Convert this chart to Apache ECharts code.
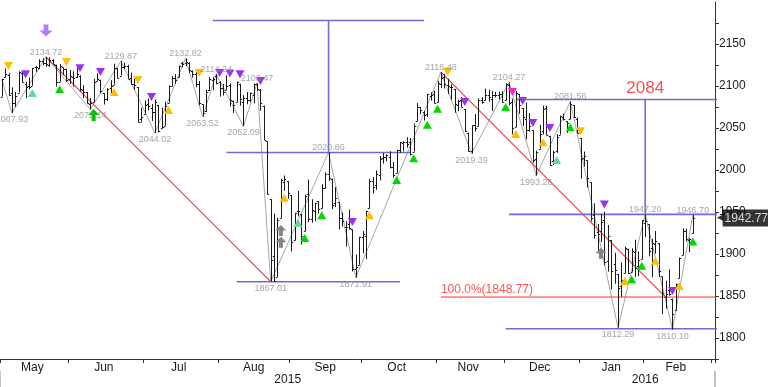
<!DOCTYPE html>
<html><head><meta charset="utf-8">
<script src="https://cdn.jsdelivr.net/npm/echarts@6/dist/echarts.min.js"></script>
<style>html,body{margin:0;padding:0;background:#fff}#c{width:768px;height:387px}</style>
</head><body><div id="c"></div>
<script>
// ---- categories (trading days) ----
const dates = [
'2015-05-01','2015-05-04','2015-05-05','2015-05-06','2015-05-07','2015-05-08','2015-05-11','2015-05-12','2015-05-13','2015-05-14','2015-05-15','2015-05-18','2015-05-19','2015-05-20','2015-05-21','2015-05-22','2015-05-26','2015-05-27','2015-05-28','2015-05-29',
'2015-06-01','2015-06-02','2015-06-03','2015-06-04','2015-06-05','2015-06-08','2015-06-09','2015-06-10','2015-06-11','2015-06-12','2015-06-15','2015-06-16','2015-06-17','2015-06-18','2015-06-19','2015-06-22','2015-06-23','2015-06-24','2015-06-25','2015-06-26','2015-06-29','2015-06-30',
'2015-07-01','2015-07-02','2015-07-06','2015-07-07','2015-07-08','2015-07-09','2015-07-10','2015-07-13','2015-07-14','2015-07-15','2015-07-16','2015-07-17','2015-07-20','2015-07-21','2015-07-22','2015-07-23','2015-07-24','2015-07-27','2015-07-28','2015-07-29','2015-07-30','2015-07-31',
'2015-08-03','2015-08-04','2015-08-05','2015-08-06','2015-08-07','2015-08-10','2015-08-11','2015-08-12','2015-08-13','2015-08-14','2015-08-17','2015-08-18','2015-08-19','2015-08-20','2015-08-21','2015-08-24','2015-08-25','2015-08-26','2015-08-27','2015-08-28','2015-08-31',
'2015-09-01','2015-09-02','2015-09-03','2015-09-04','2015-09-08','2015-09-09','2015-09-10','2015-09-11','2015-09-14','2015-09-15','2015-09-16','2015-09-17','2015-09-18','2015-09-21','2015-09-22','2015-09-23','2015-09-24','2015-09-25','2015-09-28','2015-09-29','2015-09-30',
'2015-10-01','2015-10-02','2015-10-05','2015-10-06','2015-10-07','2015-10-08','2015-10-09','2015-10-12','2015-10-13','2015-10-14','2015-10-15','2015-10-16','2015-10-19','2015-10-20','2015-10-21','2015-10-22','2015-10-23','2015-10-26','2015-10-27','2015-10-28','2015-10-29','2015-10-30',
'2015-11-02','2015-11-03','2015-11-04','2015-11-05','2015-11-06','2015-11-09','2015-11-10','2015-11-11','2015-11-12','2015-11-13','2015-11-16','2015-11-17','2015-11-18','2015-11-19','2015-11-20','2015-11-23','2015-11-24','2015-11-25','2015-11-27','2015-11-30',
'2015-12-01','2015-12-02','2015-12-03','2015-12-04','2015-12-07','2015-12-08','2015-12-09','2015-12-10','2015-12-11','2015-12-14','2015-12-15','2015-12-16','2015-12-17','2015-12-18','2015-12-21','2015-12-22','2015-12-23','2015-12-24','2015-12-28','2015-12-29','2015-12-30','2015-12-31',
'2016-01-04','2016-01-05','2016-01-06','2016-01-07','2016-01-08','2016-01-11','2016-01-12','2016-01-13','2016-01-14','2016-01-15','2016-01-19','2016-01-20','2016-01-21','2016-01-22','2016-01-25','2016-01-26','2016-01-27','2016-01-28','2016-01-29',
'2016-02-01','2016-02-02','2016-02-03','2016-02-04','2016-02-05','2016-02-08','2016-02-09','2016-02-10','2016-02-11','2016-02-12','2016-02-16','2016-02-17','2016-02-18','2016-02-19','2016-02-22','2016-02-23','2016-02-24','2016-02-25','2016-02-26','2016-02-29',
'2016-03-01'];
const monthNames = ['Jan','Feb','Mar','Apr','May','Jun','Jul','Aug','Sep','Oct','Nov','Dec'];

// ---- daily OHLC ----
const openVals = [
2087.38,2110.23,2112.63,2091.26,2079.96,2092.13,2115.56,2102.87,2099.62,2100.43,2122.07,2121.30,2129.45,2127.79,2125.55,2130.36,2125.34,2105.13,2122.27,2120.66,
2108.64,2110.41,2110.64,2112.35,2095.09,2092.34,2079.07,2081.12,2106.24,2107.43,2091.34,2084.26,2097.40,2101.58,2121.06,2112.50,2123.16,2123.65,2109.96,2102.62,2098.63,2061.19,
2067.00,2078.03,2073.95,2069.52,2077.66,2049.73,2052.74,2080.03,2099.72,2109.01,2110.55,2126.80,2126.85,2127.55,2118.21,2114.16,2102.24,2078.19,2070.75,2094.70,2106.78,2111.60,
2104.49,2097.68,2095.27,2100.75,2082.61,2080.98,2102.66,2081.10,2086.19,2083.15,2089.70,2101.99,2095.69,2076.61,2034.08,1965.15,1898.08,1872.75,1942.77,1986.06,1986.73,
1970.09,1916.52,1950.79,1947.76,1927.30,1971.45,1941.59,1951.45,1963.06,1955.10,1978.02,1995.33,1989.66,1960.84,1961.39,1943.24,1932.24,1935.93,1929.18,1881.90,1887.14,
1919.65,1921.77,1954.33,1986.63,1982.34,1994.01,2013.73,2015.65,2015.00,2003.66,1996.47,2024.37,2031.73,2033.13,2033.47,2021.88,2058.19,2075.08,2068.75,2066.48,2088.35,2090.00,
2080.76,2102.63,2110.60,2101.68,2098.60,2096.56,2077.19,2083.41,2072.29,2044.64,2022.08,2053.67,2051.99,2083.70,2082.82,2089.41,2084.42,2089.30,2088.82,2090.95,
2082.93,2101.71,2080.71,2051.24,2090.42,2073.39,2061.17,2047.93,2047.27,2013.37,2025.55,2046.50,2073.76,2040.81,2010.27,2023.15,2042.20,2063.52,2057.77,2060.54,2077.34,2060.59,
2038.20,2013.78,2011.71,1985.32,1945.97,1926.12,1927.83,1940.34,1891.68,1916.68,1888.66,1876.18,1861.46,1877.40,1906.28,1878.79,1902.52,1885.22,1894.00,
1936.94,1935.26,1907.07,1911.67,1913.07,1873.25,1848.46,1857.10,1847.00,1833.40,1871.44,1898.80,1927.57,1916.74,1924.44];
const highVals = [
2108.41,2120.95,2115.24,2098.42,2092.90,2117.66,2117.69,2105.06,2110.19,2121.45,2123.89,2131.78,2133.02,2134.72,2134.28,2132.15,2125.34,2126.22,2122.27,2120.66,
2119.15,2117.59,2121.92,2112.89,2100.99,2093.01,2085.62,2108.50,2115.02,2107.43,2091.34,2097.40,2106.79,2126.65,2121.64,2129.87,2128.03,2125.10,2116.04,2108.92,2098.63,2074.28,
2082.78,2085.06,2078.61,2083.74,2077.66,2074.28,2081.31,2100.67,2111.98,2114.14,2124.42,2128.91,2132.82,2128.49,2118.51,2116.87,2106.01,2078.19,2095.60,2110.60,2110.48,2114.24,
2105.70,2102.51,2112.66,2103.32,2082.61,2105.35,2102.66,2089.06,2092.93,2092.45,2102.87,2103.47,2096.17,2076.61,2034.08,1965.15,1948.04,1943.09,1989.60,1993.48,1986.73,
1970.09,1948.91,1975.01,1947.76,1970.42,1988.63,1965.29,1961.05,1963.06,1983.19,1997.26,2020.86,1989.66,1979.64,1961.39,1949.52,1939.20,1952.89,1929.18,1899.48,1920.53,
1927.21,1951.36,1989.17,1991.62,1999.31,2016.50,2020.13,2018.66,2022.34,2009.56,2024.15,2033.54,2034.45,2039.12,2037.97,2055.20,2079.74,2075.14,2070.37,2090.35,2092.52,2094.32,
2106.20,2116.48,2114.59,2108.78,2101.91,2096.56,2083.67,2086.94,2072.29,2044.64,2053.22,2066.69,2085.31,2086.74,2097.06,2095.61,2094.12,2093.00,2093.29,2093.81,
2103.37,2104.27,2085.00,2093.84,2090.42,2073.85,2080.33,2067.65,2047.27,2022.92,2053.87,2076.72,2076.37,2040.81,2022.90,2042.74,2064.73,2067.36,2057.77,2081.56,2077.34,2062.54,
2038.20,2021.94,2011.71,1985.32,1960.40,1935.65,1947.38,1950.33,1934.47,1916.68,1901.44,1876.18,1889.85,1908.85,1906.28,1906.73,1916.99,1902.96,1940.24,
1947.20,1935.26,1918.01,1927.35,1913.07,1873.25,1868.25,1881.60,1847.00,1864.78,1895.77,1930.68,1930.00,1918.78,1946.70];
const lowVals = [
2087.38,2110.23,2088.46,2067.93,2074.99,2092.13,2104.58,2085.57,2096.04,2100.43,2116.81,2120.01,2124.50,2122.59,2122.95,2126.06,2099.18,2105.13,2112.86,2104.89,
2102.54,2099.14,2109.61,2093.23,2085.67,2079.11,2072.14,2081.12,2106.24,2091.33,2078.00,2082.10,2088.86,2101.58,2109.45,2112.50,2119.89,2108.58,2101.78,2095.38,2056.64,2056.32,
2067.00,2071.02,2058.40,2044.02,2044.66,2049.73,2052.74,2080.03,2099.72,2102.49,2110.55,2122.28,2123.66,2115.40,2110.00,2098.63,2077.09,2063.52,2069.09,2094.08,2094.97,2102.07,
2087.31,2088.60,2095.27,2075.53,2067.91,2080.98,2076.49,2052.09,2078.26,2080.61,2079.30,2094.14,2070.53,2035.73,1970.89,1867.01,1867.08,1872.75,1942.77,1975.19,1965.98,
1903.07,1916.52,1944.72,1911.21,1927.30,1937.88,1937.19,1939.19,1948.27,1954.30,1977.93,1986.73,1953.45,1955.80,1929.22,1932.57,1908.77,1928.92,1879.21,1871.91,1887.14,
1900.70,1893.70,1954.33,1971.99,1976.44,1987.53,2007.61,2010.55,2001.78,1990.73,1996.47,2020.46,2022.31,2026.61,2017.22,2021.88,2058.19,2066.53,2058.84,2063.11,2082.63,2079.34,
2080.76,2097.51,2096.98,2090.41,2083.74,2068.24,2069.91,2074.85,2045.66,2022.02,2019.39,2045.90,2051.99,2078.76,2082.82,2081.39,2070.29,2086.30,2084.13,2080.41,
2082.93,2077.11,2042.35,2051.24,2066.78,2052.32,2036.53,2045.67,2008.80,1993.26,2025.55,2042.43,2041.66,2005.33,2005.93,2020.49,2042.20,2058.73,2044.20,2060.54,2061.97,2043.62,
1989.68,2004.17,1979.05,1938.83,1918.46,1901.10,1914.35,1886.41,1878.93,1857.83,1864.60,1812.29,1848.98,1877.40,1875.97,1878.79,1872.70,1873.65,1894.00,
1920.03,1897.29,1872.23,1900.52,1872.65,1828.46,1834.94,1850.32,1810.10,1833.40,1871.44,1898.80,1915.09,1902.17,1924.44];
const closeVals = [
2108.29,2114.49,2089.46,2080.15,2088.00,2116.10,2105.33,2099.12,2098.48,2121.10,2122.73,2129.20,2127.83,2125.85,2130.82,2126.06,2104.20,2123.48,2120.79,2107.39,
2111.73,2109.60,2114.07,2095.84,2092.83,2079.28,2080.15,2105.20,2108.86,2094.11,2084.43,2096.29,2100.44,2121.24,2109.99,2122.85,2124.20,2108.58,2102.31,2101.49,2057.64,2063.11,
2077.42,2076.78,2068.76,2081.34,2046.68,2051.31,2076.62,2099.60,2108.95,2107.40,2124.29,2126.64,2128.28,2119.21,2114.15,2102.15,2079.65,2067.64,2093.25,2108.57,2108.63,2103.84,
2098.04,2093.32,2099.84,2083.56,2077.57,2104.18,2084.07,2086.05,2083.39,2091.54,2102.44,2096.92,2079.61,2035.73,1970.89,1893.21,1867.61,1940.51,1987.66,1988.87,1972.18,
1913.85,1948.86,1951.13,1921.22,1969.41,1942.04,1952.29,1961.05,1953.03,1978.09,1995.31,1990.20,1958.03,1966.97,1942.74,1938.76,1932.24,1931.34,1881.77,1884.09,1920.03,
1923.82,1951.36,1987.05,1979.92,1995.83,2013.43,2014.89,2017.46,2003.69,1994.24,2023.86,2033.11,2033.66,2030.77,2018.94,2052.51,2075.15,2071.18,2065.89,2090.35,2089.41,2079.36,
2104.05,2109.79,2102.31,2099.93,2099.20,2078.58,2081.72,2075.00,2045.97,2023.04,2053.19,2050.44,2083.58,2081.24,2089.17,2086.59,2089.14,2088.87,2090.11,2080.41,
2102.63,2079.51,2049.62,2091.69,2077.07,2063.59,2047.62,2052.23,2012.37,2021.94,2043.41,2073.07,2041.89,2005.55,2021.15,2038.97,2064.29,2060.99,2056.50,2078.36,2063.36,2043.94,
2012.66,2016.71,1990.26,1943.09,1922.03,1923.67,1938.68,1890.28,1921.84,1880.33,1881.33,1859.33,1868.99,1906.90,1877.08,1903.63,1882.95,1893.36,1940.24,
1939.38,1903.03,1912.53,1915.45,1880.05,1853.44,1852.21,1851.86,1829.08,1864.78,1895.58,1926.82,1917.83,1917.78,1942.77];

// ---- swing points (zigzag + labels) ----
const swingPoints = [
['2015-05-01',2108.41],['2015-05-06',2067.93],['2015-05-20',2134.72],['2015-06-09',2072.14],['2015-06-22',2129.87],
['2015-07-07',2044.02],['2015-07-20',2132.82],['2015-07-27',2063.52],['2015-07-31',2114.24],['2015-08-12',2052.09],
['2015-08-18',2103.47],['2015-08-24',1867.01],['2015-09-17',2020.86],['2015-09-29',1871.91],['2015-11-03',2116.48],
['2015-11-16',2019.39],['2015-12-02',2104.27],['2015-12-14',1993.26],['2015-12-29',2081.56],['2016-01-20',1812.29],
['2016-02-01',1947.20],['2016-02-11',1810.10],['2016-02-22',1946.70]];

// ---- signal markers ----
const purpleDown = [['2015-05-12',2114],['2015-06-04',2121],['2015-06-12',2116.7],['2015-07-06',2087],['2015-08-03',2115.5],['2015-08-06',2115],['2015-08-11',2114],['2015-08-19',2106],['2015-09-28',1938],['2015-11-12',2081],['2015-12-08',2082],['2015-12-11',2056],['2015-12-18',2050],['2016-01-13',1959],['2016-02-11',1856]];
const magentaDown = [['2015-12-03',2093]];
const orangeDown = [['2015-05-05',2123.8],['2015-05-29',2128.6],['2015-06-29',2107],['2015-07-24',2115.5],['2015-11-05',2117],['2016-01-04',2046]];
const orangeUp = [['2015-06-18',2093],['2015-07-13',2071.4],['2015-08-28',1967],['2015-10-05',1946],['2015-12-04',2043],['2015-12-16',2033],['2016-01-22',1868],['2016-02-04',1892],['2016-02-16',1862]];
const greenUp = [['2015-05-27',2096],['2015-09-08',1919],['2015-09-15',1946],['2015-10-15',1988],['2015-10-22',2014],['2015-10-28',2054],['2015-11-02',2073],['2015-12-01',2075],['2015-12-29',2051],['2016-01-26',1870],['2016-01-29',1886],['2016-02-22',1915]];
const lightGreenUp = [['2015-05-14',2091.7],['2015-09-03',1937],['2015-12-22',2012]];
const grayArrowUp = [['2015-08-27',1928],['2015-08-27',1914],['2016-01-12',1901]];
const bigPurpleDown = [['2015-05-20',2166]];
const bigGreenUp = [['2015-06-10',2065.5]];

// ---- drawn study lines ----
const trendLines = [[['2015-05-20',2134.72],['2015-08-24',1867.01]], [['2015-11-03',2116.48],['2016-02-09',1848.77]]];
const rangeLines = [
  [['2015-07-30',2178],['2015-10-27',2178]],
  [['2015-09-17',2178],['2015-09-17',2020.86]],
  [['2015-08-05',2020.86],['2015-10-21',2020.86]],
  [['2015-08-10',1867.01],['2015-10-16',1867.01]],
  [['2015-12-04',2084],['END',2084]],
  [['2016-02-01',2084],['2016-02-01',1947.20]],
  [['2015-12-02',1947.20],['END',1947.20]],
  [['2015-12-01',1811],['END',1811]]];
const targetLevel = ['2016-02-01', 2084];
const fibLevel = ['2015-11-03', 1848.77];
const fibPct = '100.0%';
const lastClose = closeVals[closeVals.length - 1];

// ---- helpers ----
const FONT = "'Liberation Sans', Arial, sans-serif";
const endIdx = dates.length + 1;
const ix = d => d === 'END' ? endIdx : dates.indexOf(d);
const monthKey = d => d.slice(0, 7);
const monthStart = new Set(), monthMid = new Set();
(function(){
  let s = 0;
  for (let i = 1; i <= dates.length; i++) {
    if (i === dates.length || monthKey(dates[i]) !== monthKey(dates[s])) {
      monthStart.add(s);
      if (i - s >= 5) monthMid.add(Math.floor((s + i - 1) / 2));
      s = i;
    }
  }
})();
const yearStart = new Set(), yearMid = new Set();
(function(){
  let s = 0;
  for (let i = 1; i <= dates.length; i++) {
    if (i === dates.length || dates[i].slice(0,4) !== dates[s].slice(0,4)) {
      if (s > 0) yearStart.add(s);
      yearMid.add(Math.floor((s + i - 1) / 2));
      s = i;
    }
  }
})();

const ohlcData = openVals.map((o, i) => [i, o, highVals[i], lowVals[i], closeVals[i]]);

function renderOHLC(params, api) {
  const xi = api.value(0);
  const o = api.coord([xi, api.value(1)]);
  const h = api.coord([xi, api.value(2)]);
  const l = api.coord([xi, api.value(3)]);
  const c = api.coord([xi, api.value(4)]);
  const bw = api.size([1, 0])[0];
  const t = Math.max(1.5, bw * 0.5);
  const x = Math.round(o[0]) + 0.5;
  const st = { stroke: '#1a1a1a', lineWidth: 1 };
  return { type: 'group', children: [
    { type: 'line', shape: { x1: x, y1: h[1], x2: x, y2: l[1] }, style: st },
    { type: 'line', shape: { x1: x - t, y1: Math.round(o[1]) + 0.5, x2: x, y2: Math.round(o[1]) + 0.5 }, style: st },
    { type: 'line', shape: { x1: x, y1: Math.round(c[1]) + 0.5, x2: x + t, y2: Math.round(c[1]) + 0.5 }, style: st }
  ]};
}

function markerSeries(name, pts, color, symbol, size, rotate) {
  return { name, type: 'scatter', z: 6, silent: true, symbol, symbolSize: size, symbolRotate: rotate || 0,
    itemStyle: { color, opacity: 1 }, data: pts.map(p => [ix(p[0]), p[1]]) };
}
const ARROW = 'path://M6,0 L12,6 L8.2,6 L8.2,12 L3.8,12 L3.8,6 L0,6 Z';

const swingLabelData = swingPoints.slice(1).map((p, k) => {
  const prev = swingPoints[k][1];
  const isHigh = p[1] > prev;
  return { value: [ix(p[0]), p[1]], label: { position: isHigh ? 'top' : 'bottom', distance: isHigh ? 0 : 2 } };
});

const RED = '#ff3030';
const series = [];
series.push({ type: 'line', z: 2, silent: true, symbol: 'none', data: swingPoints.map(p => [ix(p[0]), p[1]]),
  lineStyle: { color: '#a6a6a6', width: 1 } });
trendLines.forEach(tl => series.push({ type: 'line', z: 3, silent: true, symbol: 'none', color: RED,
  data: tl.map(p => [ix(p[0]), p[1]]), itemStyle: { color: RED }, lineStyle: { color: RED, width: 1.1 } }));
rangeLines.forEach(rl => series.push({ type: 'line', z: 3, silent: true, symbol: 'none',
  data: rl.map(p => [ix(p[0]), p[1]]), lineStyle: { color: '#6c6cd6', width: 1.6 } }));
series.push({ type: 'line', z: 3, silent: true, symbol: 'none', color: RED,
  data: [[ix(fibLevel[0]), fibLevel[1]], [endIdx, fibLevel[1]]], lineStyle: { color: RED, width: 1 } });
series.push({ type: 'custom', z: 4, silent: true, renderItem: renderOHLC, data: ohlcData, encode: { x: 0, y: [1, 2, 3, 4] }, clip: true });
series.push(markerSeries('pd', purpleDown, '#9b30f5', 'triangle', [9, 8], 180));
series.push(markerSeries('md', magentaDown, '#ff22d0', 'triangle', [9, 8], 180));
series.push(markerSeries('od', orangeDown, '#ffbf00', 'triangle', [9, 8], 180));
series.push(markerSeries('ou', orangeUp, '#ffbf00', 'triangle', [9, 8], 0));
series.push(markerSeries('gu', greenUp, '#00d800', 'triangle', [9, 8], 0));
series.push(markerSeries('lg', lightGreenUp, '#6cd49a', 'triangle', [9, 8], 0));
series.push(markerSeries('ga', grayArrowUp, '#858585', ARROW, [11, 11], 0));
series.push(markerSeries('bp', bigPurpleDown, '#b57cf5', ARROW, [13, 12], 180));
series.push(markerSeries('bg', bigGreenUp, '#00c400', ARROW, [11, 12], 0));
series.push({ type: 'scatter', z: 7, silent: true, symbolSize: 0, data: swingLabelData,
  label: { show: true, color: '#8e8e8e', fontSize: 9, fontFamily: FONT, formatter: p => p.value[1].toFixed(2) } });
series.push({ type: 'scatter', z: 7, silent: true, symbolSize: 0, data: [[ix(targetLevel[0]), targetLevel[1]]],
  label: { show: true, position: 'top', distance: 3, color: '#ff2222', fontSize: 17, fontFamily: FONT,
    formatter: p => String(p.value[1]) } });
series.push({ type: 'scatter', z: 7, silent: true, symbolSize: 0, data: [[ix(fibLevel[0]), fibLevel[1]]],
  label: { show: true, position: 'top', align: 'left', distance: 1, color: '#ff2a2a', fontSize: 12, fontFamily: FONT,
    formatter: p => fibPct + '(' + p.value[1].toFixed(2) + ')' } });
// last price tag, just right of the value axis
series.push({ type: 'scatter', z: 8, silent: true, clip: false, symbolSize: 0, data: [[dates.length, lastClose]],
  label: { show: true, position: 'right', distance: 0,
    formatter: p => '{a|\u25C0}{b|' + p.value[1].toFixed(2) + '}',
    rich: { a: { color: '#000', fontSize: 9, fontFamily: 'DejaVu Sans', padding: [0, -1, 0, 0] },
            b: { backgroundColor: '#000', color: '#fff', fontSize: 12, fontFamily: FONT, padding: [3, 2, 2, 2] } } } });

const chart = echarts.init(document.getElementById('c'), null, { renderer: 'canvas' });
chart.setOption({
  animation: false,
  backgroundColor: '#fff',
  textStyle: { fontFamily: FONT },
  grid: { left: -3.4, right: 53, top: 2, bottom: 28, containLabel: false },
  xAxis: [{
    type: 'category', data: dates, boundaryGap: true, position: 'bottom',
    axisLine: { lineStyle: { color: '#333', width: 1 } },
    axisTick: { show: true, length: 4, interval: i => monthStart.has(i), lineStyle: { color: '#333' } },
    axisLabel: { interval: i => monthMid.has(i), margin: 3, color: '#1a1a1a', fontSize: 12, fontFamily: FONT,
      formatter: v => monthNames[parseInt(v.slice(5, 7), 10) - 1] },
    splitLine: { show: false }
  }, {
    type: 'category', data: dates, boundaryGap: true, position: 'bottom', offset: 12,
    axisLine: { show: false },
    axisTick: { show: true, length: 16, interval: i => yearStart.has(i), lineStyle: { color: '#b0b0b0', width: 1.5 } },
    axisLabel: { interval: i => yearMid.has(i), margin: 3, color: '#1a1a1a', fontSize: 12, fontFamily: FONT,
      formatter: v => v.slice(0, 4) },
    splitLine: { show: false }
  }],
  yAxis: {
    type: 'value', position: 'right', min: 1775, max: 2200, interval: 25,
    axisLine: { show: true, lineStyle: { color: '#333' } },
    axisTick: { show: true, length: 4, lineStyle: { color: '#333' } },
    axisLabel: { margin: 4, color: '#1a1a1a', fontSize: 12, fontFamily: FONT, showMaxLabel: false,
      formatter: v => (v % 50 === 0 && v < 2200 ? String(v) : '') },
    splitLine: { show: false }
  },
  series
});
</script>
</body></html>
